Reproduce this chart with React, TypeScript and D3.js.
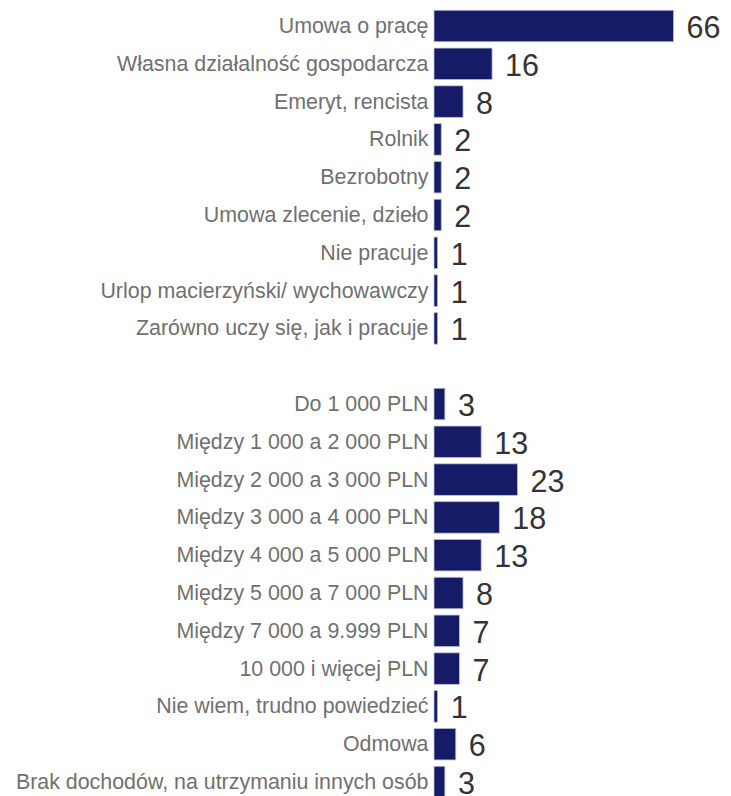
import React from "react";
import * as d3 from "d3";

const employmentCategories = [
  "Umowa o pracę",
  "Własna działalność gospodarcza",
  "Emeryt, rencista",
  "Rolnik",
  "Bezrobotny",
  "Umowa zlecenie, dzieło",
  "Nie pracuje",
  "Urlop macierzyński/ wychowawczy",
  "Zarówno uczy się, jak i pracuje",
];
const employmentValues = [66, 16, 8, 2, 2, 2, 1, 1, 1];

const incomeCategories = [
  "Do 1 000 PLN",
  "Między 1 000 a 2 000 PLN",
  "Między 2 000 a 3 000 PLN",
  "Między 3 000 a 4 000 PLN",
  "Między 4 000 a 5 000 PLN",
  "Między 5 000 a 7 000 PLN",
  "Między 7 000 a 9.999 PLN",
  "10 000 i więcej PLN",
  "Nie wiem, trudno powiedzieć",
  "Odmowa",
  "Brak dochodów, na utrzymaniu innych osób",
];
const incomeValues = [3, 13, 23, 18, 13, 8, 7, 7, 1, 6, 3];

type Row = { key: string; label: string; value: number | null };

const rows: Row[] = [
  ...employmentCategories.map((c, i) => ({ key: "e" + i, label: c, value: employmentValues[i] })),
  { key: "gap", label: "", value: null },
  ...incomeCategories.map((c, i) => ({ key: "i" + i, label: c, value: incomeValues[i] })),
];

const W = 731;
const H = 796;
const x0 = 434;
const step = 37.8;
const firstCenter = 26;

export default function App() {
  const y = d3
    .scaleBand<string>()
    .domain(rows.map((r) => r.key))
    .range([firstCenter - step / 2, firstCenter - step / 2 + rows.length * step])
    .paddingInner(0.167)
    .paddingOuter(0.0835);
  const x = d3.scaleLinear().domain([0, 66]).range([x0, x0 + 239.5]);
  const bw = y.bandwidth();

  return (
    <svg
      width={W}
      height={H}
      style={{ position: "absolute", left: 0, top: 0, background: "#fff" }}
      fontFamily="'Liberation Sans', Arial, sans-serif"
    >
      {rows.map((r) => {
        if (r.value === null) return null;
        const yy = y(r.key)!;
        const cy = yy + bw / 2;
        const xe = x(r.value);
        return (
          <g key={r.key}>
            <rect
              x={x0}
              y={yy}
              width={xe - x0}
              height={bw}
              fill="#151b66"
              stroke="#b9bcd6"
              strokeWidth={0.8}
            />
            <text
              x={x0 - 5.5}
              y={cy}
              textAnchor="end"
              dominantBaseline="central"
              fontSize={21.4}
              fill="#707070"
            >
              {r.label}
            </text>
            <text
              x={xe + 13}
              y={cy + 1}
              textAnchor="start"
              dominantBaseline="central"
              fontSize={30.5}
              fill="#333333"
            >
              {r.value}
            </text>
          </g>
        );
      })}
    </svg>
  );
}
